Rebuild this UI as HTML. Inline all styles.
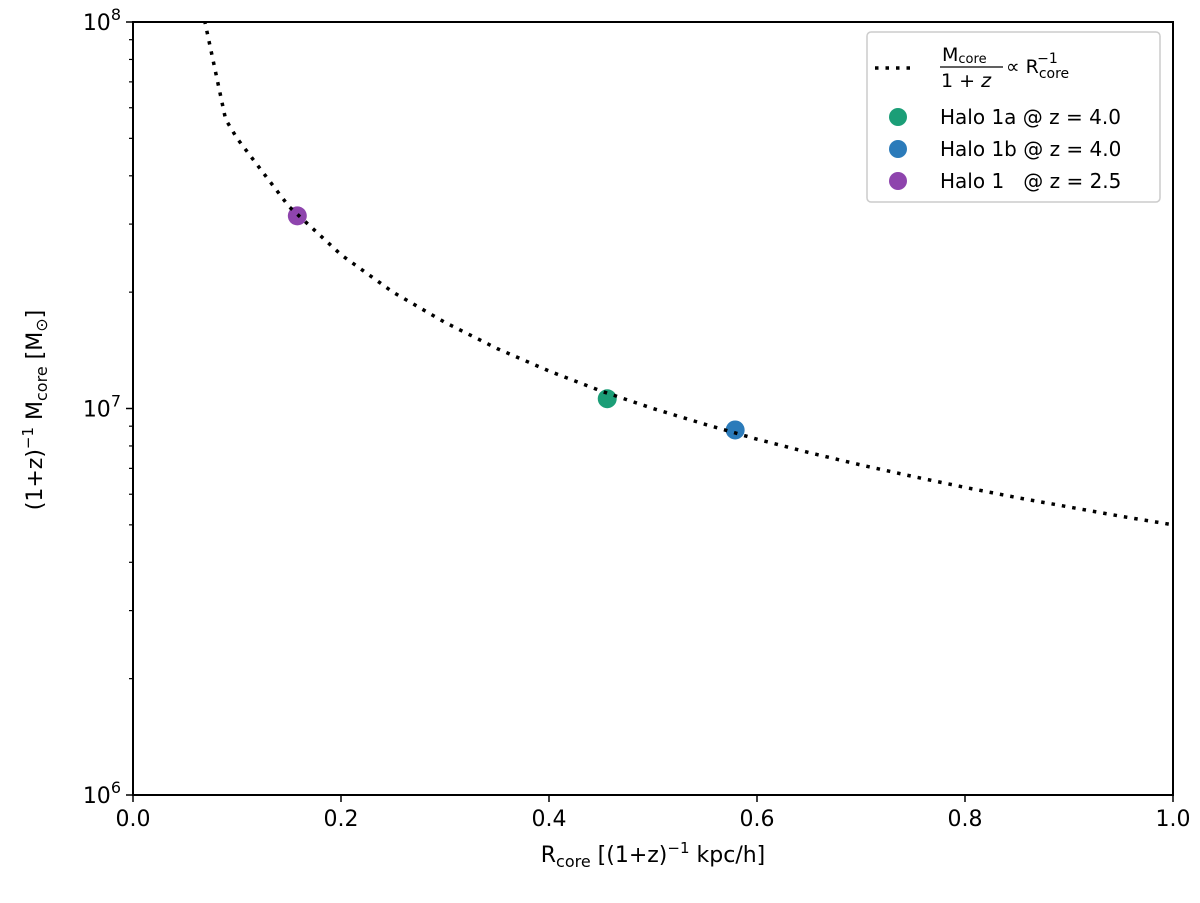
<!DOCTYPE html>
<html><head><meta charset="utf-8"><style>
body{margin:0;background:#fff;font-family:"Liberation Sans","DejaVu Sans",sans-serif}
svg text{font-family:"DejaVu Sans","Liberation Sans",sans-serif}
</style></head><body>
<svg id="chart" width="1200" height="898" viewBox="0 0 1200 898" xmlns="http://www.w3.org/2000/svg">
<defs><clipPath id="clip"><rect x="133" y="22" width="1040" height="773"/></clipPath></defs>
<g id="curve" clip-path="url(#clip)"></g>
<g id="points"></g>
<g id="axes"></g>
<g id="legend">
<rect x="867" y="32" width="293" height="170" rx="4" fill="#fff" stroke="#ccc" stroke-width="1.5"/>
<line x1="875" y1="68" x2="913" y2="68" stroke="#000" stroke-width="3.5" stroke-dasharray="3.5,7"/>
<text x="942" y="61" font-size="19">M<tspan font-size="13" dy="2">core</tspan></text>
<line x1="940" y1="67" x2="1003" y2="67" stroke="#000" stroke-width="1.3"/>
<text x="941" y="87" font-size="19">1 + <tspan font-style="italic">z</tspan></text>
<text x="1006" y="73" font-size="19">∝ R<tspan font-size="14" dy="5">core</tspan><tspan font-size="14" dx="-32" dy="-15">−1</tspan></text>
<circle cx="898" cy="117" r="9" fill="#1b9e77"/>
<text x="940" y="124" font-size="20">Halo 1a @ z = 4.0</text>
<circle cx="898" cy="149" r="9" fill="#2b7bba"/>
<text x="940" y="156" font-size="20">Halo 1b @ z = 4.0</text>
<circle cx="898" cy="181" r="9" fill="#8e44ad"/>
<text x="940" y="188" font-size="20" xml:space="preserve">Halo 1   @ z = 2.5</text>
</g>
<text x="653" y="862" font-size="22" text-anchor="middle">R<tspan font-size="16" dy="5">core</tspan><tspan dy="-5"> [(1+z)</tspan><tspan font-size="15" dy="-9">−1</tspan><tspan dy="9"> kpc/h]</tspan></text>
<text transform="translate(42,410) rotate(-90)" font-size="22" text-anchor="middle">(1+z)<tspan font-size="15" dy="-9">−1</tspan><tspan dy="9"> M</tspan><tspan font-size="16" dy="5">core</tspan><tspan dy="-5"> [M</tspan><tspan font-size="16" dy="5">⊙</tspan><tspan dy="-5">]</tspan></text>
</svg>
<script>
const curveR = [0.05, 0.089, 0.1, 0.15, 0.2, 0.25, 0.3, 0.35, 0.4, 0.45, 0.5, 0.55, 0.6, 0.65, 0.7, 0.75, 0.8, 0.85, 0.9, 0.95, 1.0];
const curveM = [1.75e8, 5.6e7, 5.0e7, 3.33e7, 2.5e7, 2.0e7, 1.67e7, 1.43e7, 1.25e7, 1.11e7, 1.0e7, 9.1e6, 8.33e6, 7.69e6, 7.14e6, 6.67e6, 6.25e6, 5.88e6, 5.56e6, 5.26e6, 5.0e6];
const haloNames = ["halo-1a", "halo-1b", "halo-1"];
const haloR = [0.456, 0.579, 0.158];
const haloM = [1.06e7, 8.8e6, 3.15e7];
const haloColors = ["#1b9e77", "#2b7bba", "#8e44ad"];
const xTicks = [0.0, 0.2, 0.4, 0.6, 0.8, 1.0];
const xTickLabels = ["0.0", "0.2", "0.4", "0.6", "0.8", "1.0"];
const yDecades = [6, 7, 8];

const L=133,R=1173,T=22,B=795;
const sx=v=>L+(v-0)/(1-0)*(R-L);
const sy=m=>B-(Math.log10(m)-6)/2*(B-T);
const NS="http://www.w3.org/2000/svg";
function mk(tag,attrs,parent){const e=document.createElementNS(NS,tag);for(const k in attrs)e.setAttribute(k,attrs[k]);parent.appendChild(e);return e;}

const cg=document.getElementById('curve');
const path=mk('path',{d:curveR.map((r,i)=>(i?'L':'M')+sx(r).toFixed(1)+','+sy(curveM[i]).toFixed(1)).join(''),fill:'none',stroke:'#000','stroke-width':3.5,'stroke-dasharray':'3.5,7'},cg);



const pg=document.getElementById('points');
haloR.forEach((r,i)=>{
  const c=mk('circle',{cx:sx(r),cy:sy(haloM[i]),r:9.5,fill:haloColors[i]},pg);
  
  
});
cg.parentNode.insertBefore(pg,cg);

const ag=document.getElementById('axes');
const frame=mk('rect',{x:L,y:T,width:R-L,height:B-T,fill:'none',stroke:'#000','stroke-width':2},ag);


xTicks.forEach((v,i)=>{
  const x=sx(v);
  mk('line',{x1:x,y1:B,x2:x,y2:B+7,stroke:'#000','stroke-width':1.5},ag);
  const t=mk('text',{x:x,y:B+31,'font-size':22,'text-anchor':'middle'},ag);
  t.textContent=xTickLabels[i];
  
  
});
yDecades.forEach(d=>{
  const y=sy(Math.pow(10,d));
  mk('line',{x1:L-7,y1:y,x2:L,y2:y,stroke:'#000','stroke-width':1.5},ag);
  const t=mk('text',{x:L-12,y:y+8,'font-size':22,'text-anchor':'end'},ag);
  t.innerHTML='10<tspan font-size="16" dy="-10">'+d+'</tspan>';
  
  
  if(d<8){for(let k=2;k<10;k++){const yy=sy(k*Math.pow(10,d));mk('line',{x1:L-4,y1:yy,x2:L,y2:yy,stroke:'#000','stroke-width':1.2},ag);}}
});
</script>
</body></html>
